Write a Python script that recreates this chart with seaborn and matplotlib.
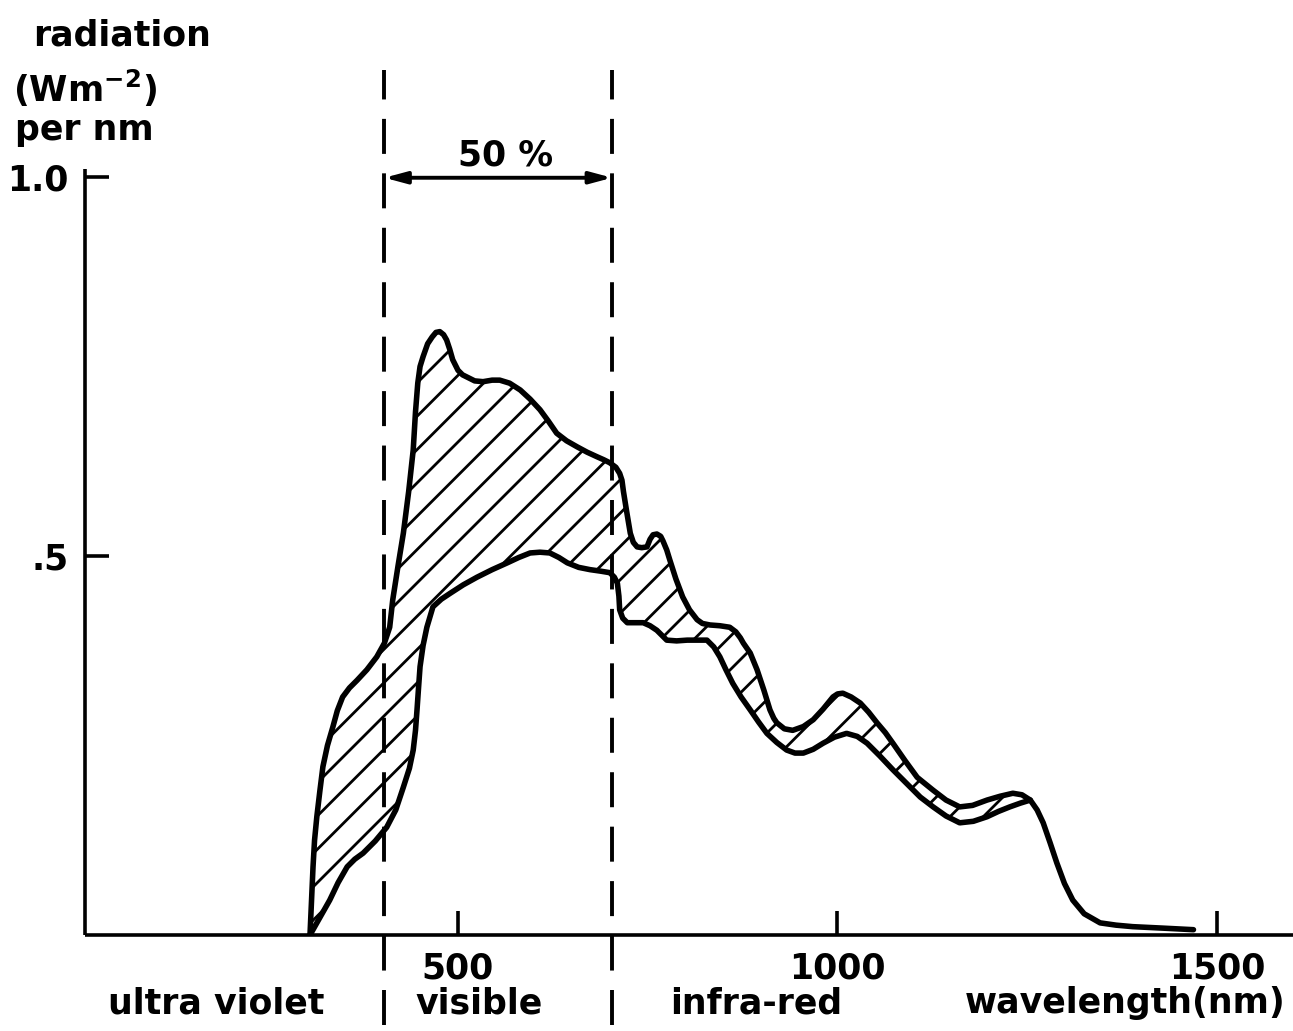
import numpy as np
import pandas as pd
import matplotlib
matplotlib.use("Agg")
import matplotlib.pyplot as plt
import seaborn as sns

# ---- data ----
upper_wl = [305, 307, 309, 311, 314, 318, 322, 328, 335, 341, 348, 357, 367, 380, 393, 403,
            410, 414, 421, 428, 435, 441, 444, 447, 450, 454, 460, 466, 471, 476, 481, 485,
            489, 493, 500, 506, 512, 522, 533, 545, 555, 568, 582, 595, 608, 619, 630, 643,
            657, 670, 683, 692, 700, 708, 713, 716, 718, 722, 727, 731, 736, 742, 749, 753,
            757, 762, 767, 770, 775, 779, 787, 796, 805, 815, 822, 832, 845, 858, 866, 872,
            876, 885, 894, 903, 911, 916, 920, 930, 941, 955, 968, 981, 994, 1000, 1007, 1018,
            1030, 1041, 1052, 1063, 1073, 1089, 1105, 1126, 1143, 1161, 1178, 1197, 1214, 1231,
            1243, 1254, 1263, 1271, 1280, 1289, 1299, 1310, 1325, 1346, 1367, 1389, 1430, 1469]
upper_rad = [0.000, 0.045, 0.090, 0.125, 0.156, 0.190, 0.222, 0.250, 0.274, 0.296, 0.314, 0.326,
             0.336, 0.350, 0.367, 0.385, 0.406, 0.442, 0.487, 0.530, 0.585, 0.640, 0.690, 0.728,
             0.750, 0.763, 0.780, 0.789, 0.795, 0.796, 0.792, 0.785, 0.773, 0.759, 0.745, 0.739,
             0.736, 0.731, 0.730, 0.732, 0.732, 0.728, 0.719, 0.707, 0.693, 0.678, 0.662, 0.652,
             0.644, 0.637, 0.631, 0.627, 0.623, 0.617, 0.609, 0.600, 0.585, 0.560, 0.530, 0.518,
             0.512, 0.511, 0.512, 0.522, 0.528, 0.529, 0.526, 0.520, 0.508, 0.495, 0.470, 0.446,
             0.429, 0.416, 0.411, 0.409, 0.408, 0.406, 0.400, 0.392, 0.385, 0.372, 0.350, 0.323,
             0.297, 0.286, 0.280, 0.272, 0.270, 0.275, 0.284, 0.298, 0.314, 0.318, 0.319, 0.314,
             0.306, 0.294, 0.280, 0.267, 0.253, 0.230, 0.208, 0.191, 0.178, 0.169, 0.171, 0.178,
             0.183, 0.187, 0.185, 0.178, 0.165, 0.148, 0.122, 0.095, 0.068, 0.046, 0.028, 0.016,
             0.013, 0.011, 0.009, 0.007]

lower_wl = [305, 318, 331, 342, 354, 364, 375, 391, 406, 418, 428, 436, 441, 444, 446, 448,
            450, 454, 459, 467, 478, 490, 507, 525, 545, 565, 580, 595, 608, 621, 633, 644,
            659, 674, 688, 700, 706, 710, 712, 713, 717, 723, 733, 744, 753, 762, 769, 775,
            788, 802, 815, 828, 837, 845, 853, 862, 873, 885, 896, 907, 920, 933, 944, 955,
            968, 981, 996, 1012, 1026, 1039, 1056, 1073, 1091, 1109, 1126, 1143, 1161, 1179,
            1197, 1212, 1227, 1241, 1254]
lower_rad = [0.000, 0.023, 0.046, 0.069, 0.090, 0.100, 0.108, 0.124, 0.142, 0.165, 0.195, 0.220,
             0.244, 0.270, 0.297, 0.326, 0.354, 0.382, 0.406, 0.433, 0.443, 0.451, 0.462, 0.472,
             0.482, 0.491, 0.498, 0.504, 0.505, 0.504, 0.498, 0.491, 0.485, 0.482, 0.480, 0.478,
             0.472, 0.464, 0.447, 0.429, 0.418, 0.412, 0.412, 0.412, 0.408, 0.402, 0.395, 0.389,
             0.388, 0.389, 0.389, 0.389, 0.380, 0.367, 0.350, 0.332, 0.314, 0.297, 0.281, 0.266,
             0.254, 0.244, 0.240, 0.240, 0.245, 0.253, 0.261, 0.266, 0.262, 0.253, 0.236, 0.218,
             0.200, 0.182, 0.169, 0.157, 0.148, 0.150, 0.156, 0.163, 0.169, 0.174, 0.178]

x_ticks = [500, 1000, 1500]
x_tick_labels = ["500", "1000", "1500"]
y_ticks = [0.5, 1.0]
y_tick_labels = [".5", "1.0"]
band_edges = [403, 703]
band_names = ["ultra violet", "visible", "infra-red"]
share_label = "50 %"

# ---- figure ----
sns.set_style("white")
plt.rcParams["font.family"] = ["DejaVu Sans"]
plt.rcParams["hatch.linewidth"] = 2.0
plt.rcParams["text.color"] = "black"
plt.rcParams["xtick.color"] = "black"
plt.rcParams["ytick.color"] = "black"
plt.rcParams["xtick.direction"] = "in"
plt.rcParams["ytick.direction"] = "in"

FS = 25
FW = "bold"

W, H = 1293, 1031
fig = plt.figure(figsize=(W / 100, H / 100), dpi=100)
ax_left, ax_right = 85, 1293
ax_bottom, ax_top = 935, 169
ax = fig.add_axes([ax_left / W, 1 - ax_bottom / H, (ax_right - ax_left) / W, (ax_bottom - ax_top) / H])

px_per_nm = 0.759
x0 = (ax_left - 78.5) / px_per_nm
x1 = x0 + (ax_right - ax_left) / px_per_nm
ax.set_xlim(x0, x1)
ax.set_ylim(0, (ax_bottom - ax_top) / 758)

up = pd.DataFrame({"wl": upper_wl, "rad": upper_rad})
lo = pd.DataFrame({"wl": lower_wl, "rad": lower_rad})

# hatched region between the two curves
mask = up["wl"].values <= lower_wl[-1]
poly_x = np.concatenate([up["wl"].values[mask], lo["wl"].values[::-1]])
poly_y = np.concatenate([up["rad"].values[mask], lo["rad"].values[::-1]])
ax.fill(poly_x, poly_y, facecolor="none", edgecolor="black", hatch="/", linewidth=0, zorder=1)

sns.lineplot(data=up, x="wl", y="rad", ax=ax, color="black", linewidth=4.0,
             estimator=None, sort=False, zorder=3)
sns.lineplot(data=lo, x="wl", y="rad", ax=ax, color="black", linewidth=4.0,
             estimator=None, sort=False, zorder=3)
for l in ax.get_lines():
    l.set_solid_capstyle("round")
    l.set_solid_joinstyle("round")

# dashed band boundaries (extend beyond axes)
ymin_ext = (ax_bottom - 1025) / 758
ymax_ext = (ax_bottom - 70) / 758
for e in band_edges:
    ax.plot([e, e], [ymin_ext, ymax_ext], color="black", linewidth=2.8,
            linestyle=(0, (9, 5)), clip_on=False, zorder=2)

# 50 % arrow
ax.annotate("", xy=(band_edges[1], 0.999), xytext=(band_edges[0], 0.999),
            arrowprops=dict(arrowstyle="<|-|>,head_length=1.3,head_width=0.35",
                            color="black", lw=2.8, shrinkA=0, shrinkB=0),
            annotation_clip=False)
ax.text((band_edges[0] + band_edges[1]) / 2 + 10, (ax_bottom - 155) / 758, share_label,
        ha="center", va="center", fontsize=FS, fontweight=FW)

# axes styling
sns.despine(ax=ax, top=True, right=True)
for s in ["left", "bottom"]:
    ax.spines[s].set_linewidth(2.6)
    ax.spines[s].set_color("black")
    ax.spines[s].set_capstyle("butt")
ax.set_xticks(x_ticks)
ax.set_xticklabels(x_tick_labels, fontsize=FS, fontweight=FW)
ax.set_yticks(y_ticks)
ax.set_yticklabels(y_tick_labels, fontsize=FS, fontweight=FW)
ax.tick_params(axis="both", which="major", direction="in", length=17, width=2.6,
               color="black", bottom=True, left=True, top=False, right=False)
ax.tick_params(axis="x", pad=12)
ax.tick_params(axis="y", pad=12)
ax.set_xlabel("")
ax.set_ylabel("")

# axis title text
def ftext(px, py, s, **kw):
    fig.text(px / W, 1 - py / H, s, fontsize=FS, fontweight=FW, color="black", **kw)

ftext(33, 35, "radiation", ha="left", va="center")
ftext(13, 88, "(Wm$^{\\mathbf{-2}}$)", ha="left", va="center")
ftext(15, 130, "per nm", ha="left", va="center")

# band names along the bottom
band_centers_px = [216, 479, 756]
for name, cx in zip(band_names, band_centers_px):
    ftext(cx, 1003, name, ha="center", va="center")
ftext(1286, 1003, "wavelength(nm)", ha="right", va="center")

fig.savefig("out.png", dpi=100)
